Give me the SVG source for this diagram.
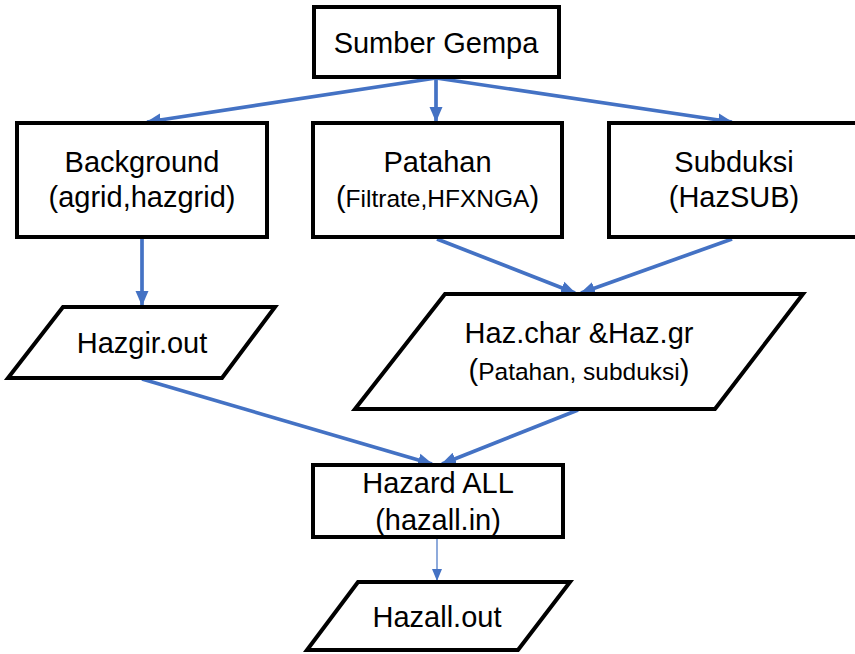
<svg xmlns="http://www.w3.org/2000/svg" width="855" height="654" viewBox="0 0 855 654">
<style>
.box{fill:#fff;stroke:#000;stroke-width:4}
.t{font-family:"Liberation Sans",Arial,sans-serif;font-size:29px;fill:#000;text-anchor:middle}
.s{font-size:24.5px}
.c{fill:none;stroke:#4472C4;stroke-width:3.7}
.thin{fill:none;stroke:#4472C4;stroke-width:1.2}
</style>
<defs>
<marker id="ah" markerUnits="userSpaceOnUse" markerWidth="15" markerHeight="15" viewBox="0 0 15 15" refX="14" refY="7.5" orient="auto">
<path d="M0,1 L15,7.5 L0,14 Z" fill="#4472C4"/>
</marker>
<marker id="ahs" markerUnits="userSpaceOnUse" markerWidth="12" markerHeight="12" viewBox="0 0 12 12" refX="11" refY="6" orient="auto">
<path d="M0,1 L12,6 L0,11 Z" fill="#4472C4"/>
</marker>
</defs>
<g id="connectors">
<line class="c" x1="436" y1="78" x2="147" y2="122" marker-end="url(#ah)"/>
<line class="c" x1="436" y1="78" x2="436" y2="121" marker-end="url(#ah)"/>
<line class="c" x1="436" y1="78" x2="732" y2="122" marker-end="url(#ah)"/>
<line class="c" x1="142" y1="238" x2="142" y2="305" marker-end="url(#ah)"/>
<line class="c" x1="437" y1="239" x2="575" y2="293" marker-end="url(#ah)"/>
<line class="c" x1="732" y1="239" x2="581" y2="293" marker-end="url(#ah)"/>
<line class="c" x1="142" y1="379" x2="432" y2="464" marker-end="url(#ah)"/>
<line class="c" x1="578" y1="410" x2="442" y2="464" marker-end="url(#ah)"/>
<line class="thin" x1="437" y1="538" x2="437" y2="580" marker-end="url(#ahs)"/>
</g>
<g id="sumber">
<rect class="box" x="314" y="7" width="245" height="70"/>
<text class="t" x="436" y="53">Sumber Gempa</text>
</g>
<g id="background">
<rect class="box" x="17" y="123" width="250" height="114"/>
<text class="t" x="142" y="172">Background</text>
<text class="t" x="142" y="207">(agrid,hazgrid)</text>
</g>
<g id="patahan">
<rect class="box" x="313" y="123" width="249" height="114"/>
<text class="t" x="437.5" y="172">Patahan</text>
<text class="t" x="437.5" y="207">(<tspan class="s">Filtrate,HFXNGA</tspan>)</text>
</g>
<g id="subduksi">
<rect class="box" x="609" y="123" width="250" height="114"/>
<text class="t" x="734" y="172">Subduksi</text>
<text class="t" x="734" y="207">(HazSUB)</text>
</g>
<g id="hazgir">
<polygon class="box" points="63,307 275,307 222,378 8,378"/>
<text class="t" x="142" y="353">Hazgir.out</text>
</g>
<g id="hazchar">
<polygon class="box" points="445,294 803,294 715,409 355,409"/>
<text class="t" x="579" y="343">Haz.char &amp;Haz.gr</text>
<text class="t" x="579" y="380">(<tspan class="s">Patahan, subduksi</tspan>)</text>
</g>
<g id="hazardall">
<rect class="box" x="313" y="465" width="250" height="72"/>
<text class="t" x="438" y="493">Hazard ALL</text>
<text class="t" x="438" y="530">(hazall.in)</text>
</g>
<g id="hazallout">
<polygon class="box" points="358,582 570,582 518,650 307,650"/>
<text class="t" x="437" y="627">Hazall.out</text>
</g>
</svg>
